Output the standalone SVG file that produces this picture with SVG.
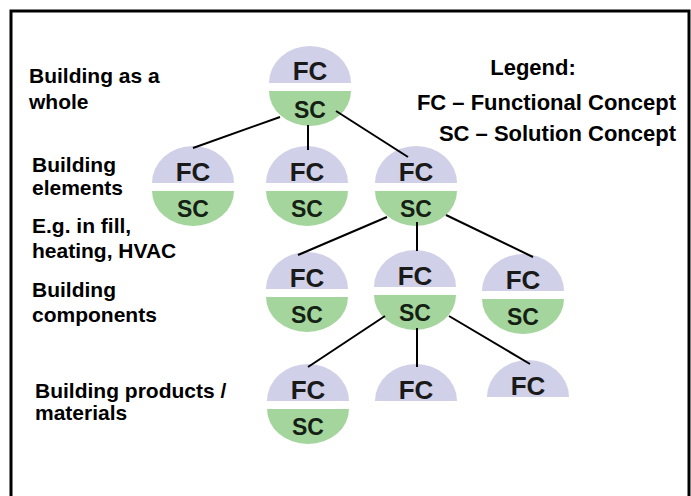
<svg xmlns="http://www.w3.org/2000/svg" xmlns:xlink="http://www.w3.org/1999/xlink" width="691" height="496" viewBox="0 0 691 496">
<style>
.fc{fill:#d0d0e8}
.sc{fill:#a4d59c}
.t1{font-family:"Liberation Sans",Arial,sans-serif;font-weight:bold;font-size:26px;fill:#1a1a1a;text-anchor:middle}
.t2{font-family:"Liberation Sans",Arial,sans-serif;font-weight:bold;font-size:23px;fill:#142014;text-anchor:middle}
.lbl{font-family:"Liberation Sans",Arial,sans-serif;font-weight:bold;font-size:21px;fill:#000}
.leg{font-family:"Liberation Sans",Arial,sans-serif;font-weight:bold;font-size:22px;fill:#000}
.edge{stroke:#000;stroke-width:2;fill:none}
</style>
<defs>
<path id="top" class="fc" d="M-41,0 A41,37 0 0 1 41,0 Z"/>
<path id="bot" class="sc" d="M-41,8 A41,35 0 0 0 41,8 Z"/>
</defs>
<rect x="11" y="11" width="678" height="500" fill="#fff" stroke="#000" stroke-width="3"/>
<g id="labels">
<text class="lbl" x="29" y="83">Building as a</text>
<text class="lbl" x="29" y="109">whole</text>
<text class="lbl" x="32" y="172">Building</text>
<text class="lbl" x="32" y="195">elements</text>
<text class="lbl" x="32" y="233">E.g. in fill,</text>
<text class="lbl" x="32" y="258">heating, HVAC</text>
<text class="lbl" x="32" y="297">Building</text>
<text class="lbl" x="32" y="322">components</text>
<text class="lbl" x="35" y="398">Building products /</text>
<text class="lbl" x="35" y="420">materials</text>
</g>
<g id="legend">
<text class="leg" x="533" y="75" text-anchor="middle">Legend:</text>
<text class="leg" x="676" y="110" text-anchor="end">FC – Functional Concept</text>
<text class="leg" x="676" y="141" text-anchor="end">SC – Solution Concept</text>
</g>
<g id="n1" transform="translate(310,83)"><use xlink:href="#top"/><use xlink:href="#bot"/><text class="t1" x="0" y="-3">FC</text><text class="t2" x="0" y="35">SC</text></g>
<g id="n2" transform="translate(193,183)"><use xlink:href="#top"/><use xlink:href="#bot"/><text class="t1" x="0" y="-2">FC</text><text class="t2" x="0" y="34">SC</text></g>
<g id="n3" transform="translate(307,183)"><use xlink:href="#top"/><use xlink:href="#bot"/><text class="t1" x="0" y="-2">FC</text><text class="t2" x="0" y="34">SC</text></g>
<g id="n4" transform="translate(416,183)"><use xlink:href="#top"/><use xlink:href="#bot"/><text class="t1" x="0" y="-2">FC</text><text class="t2" x="0" y="34">SC</text></g>
<g id="n5" transform="translate(307,289)"><use xlink:href="#top"/><use xlink:href="#bot"/><text class="t1" x="0" y="-2">FC</text><text class="t2" x="0" y="34">SC</text></g>
<g id="n6" transform="translate(415,287)"><use xlink:href="#top"/><use xlink:href="#bot"/><text class="t1" x="0" y="-2">FC</text><text class="t2" x="0" y="34">SC</text></g>
<g id="n7" transform="translate(523,291)"><use xlink:href="#top"/><use xlink:href="#bot"/><text class="t1" x="0" y="-2">FC</text><text class="t2" x="0" y="34">SC</text></g>
<g id="n8" transform="translate(308,401)"><use xlink:href="#top"/><use xlink:href="#bot"/><text class="t1" x="0" y="-2">FC</text><text class="t2" x="0" y="34">SC</text></g>
<g id="n9" transform="translate(416,401)"><use xlink:href="#top"/><text class="t1" x="0" y="-2">FC</text></g>
<g id="n10" transform="translate(528,397)"><use xlink:href="#top"/><text class="t1" x="0" y="-2">FC</text></g>
<g id="connectors">
<line class="edge" x1="280" y1="117" x2="193" y2="148"/>
<line class="edge" x1="308" y1="125" x2="308" y2="150"/>
<line class="edge" x1="336" y1="111" x2="408" y2="157"/>
<line class="edge" x1="387" y1="217" x2="298" y2="255"/>
<line class="edge" x1="417" y1="222" x2="417" y2="251"/>
<line class="edge" x1="446" y1="215" x2="533" y2="257"/>
<line class="edge" x1="385" y1="316" x2="308" y2="367"/>
<line class="edge" x1="417" y1="328" x2="417" y2="367"/>
<line class="edge" x1="449" y1="316" x2="530" y2="364"/>
</g>
</svg>
